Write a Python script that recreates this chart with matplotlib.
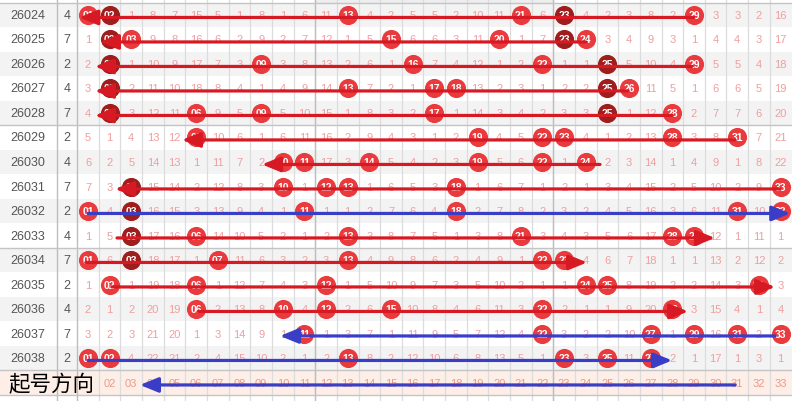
import matplotlib
matplotlib.use("Agg")
import matplotlib.pyplot as plt

# ---- data ----
periods = ["26024", "26025", "26026", "26027", "26028", "26029", "26030", "26031",
           "26032", "26033", "26034", "26035", "26036", "26037", "26038"]
tail = [4, 7, 2, 4, 7, 2, 4, 7, 2, 4, 7, 2, 4, 7, 2]

# miss counts per number 01..33, 0 = drawn that period
misses = [
    [0, 0, 1, 8, 7, 15, 5, 1, 8, 1, 6, 11, 0, 4, 2, 5, 5, 2, 10, 11, 0, 6, 0, 4, 2, 3, 8, 2, 0, 3, 3, 2, 16],
    [1, 0, 0, 9, 8, 16, 6, 2, 9, 2, 7, 12, 1, 5, 0, 6, 6, 3, 11, 0, 1, 7, 0, 0, 3, 4, 9, 3, 1, 4, 4, 3, 17],
    [2, 0, 1, 10, 9, 17, 7, 3, 0, 3, 8, 13, 2, 6, 1, 0, 7, 4, 12, 1, 2, 0, 1, 1, 0, 5, 10, 4, 0, 5, 5, 4, 18],
    [3, 0, 2, 11, 10, 18, 8, 4, 1, 4, 9, 14, 0, 7, 2, 1, 0, 0, 13, 2, 3, 1, 2, 2, 0, 0, 11, 5, 1, 6, 6, 5, 19],
    [4, 0, 3, 12, 11, 0, 9, 5, 0, 5, 10, 15, 1, 8, 3, 2, 0, 1, 14, 3, 4, 2, 3, 3, 0, 1, 12, 0, 2, 7, 7, 6, 20],
    [5, 1, 4, 13, 12, 0, 10, 6, 1, 6, 11, 16, 2, 9, 4, 3, 1, 2, 0, 4, 5, 0, 0, 4, 1, 2, 13, 0, 3, 8, 0, 7, 21],
    [6, 2, 5, 14, 13, 1, 11, 7, 2, 0, 0, 17, 3, 0, 5, 4, 2, 3, 0, 5, 6, 0, 1, 0, 2, 3, 14, 1, 4, 9, 1, 8, 22],
    [7, 3, 0, 15, 14, 2, 12, 8, 3, 0, 1, 0, 0, 1, 6, 5, 3, 0, 1, 6, 7, 1, 2, 1, 3, 4, 15, 2, 5, 10, 2, 9, 0],
    [0, 4, 0, 16, 15, 3, 13, 9, 4, 1, 0, 1, 1, 2, 7, 6, 4, 0, 2, 7, 8, 2, 3, 2, 4, 5, 16, 3, 6, 11, 0, 10, 0],
    [1, 5, 0, 17, 16, 0, 14, 10, 5, 2, 1, 2, 0, 3, 8, 7, 5, 1, 3, 8, 0, 3, 4, 3, 5, 6, 17, 0, 0, 12, 1, 11, 1],
    [0, 6, 0, 18, 17, 1, 0, 11, 6, 3, 2, 3, 0, 4, 9, 8, 6, 2, 4, 9, 1, 0, 0, 4, 6, 7, 18, 1, 1, 13, 2, 12, 2],
    [1, 0, 1, 19, 18, 0, 1, 12, 7, 4, 3, 0, 1, 5, 10, 9, 7, 3, 5, 10, 2, 1, 1, 0, 0, 8, 19, 2, 2, 14, 3, 0, 3],
    [2, 1, 2, 20, 19, 0, 2, 13, 8, 0, 4, 0, 2, 6, 0, 10, 8, 4, 6, 11, 3, 0, 2, 1, 1, 9, 20, 0, 3, 15, 4, 1, 4],
    [3, 2, 3, 21, 20, 1, 3, 14, 9, 1, 0, 1, 3, 7, 1, 11, 9, 5, 7, 12, 4, 0, 3, 2, 2, 10, 0, 1, 0, 16, 0, 2, 0],
    [0, 0, 4, 22, 21, 2, 4, 15, 10, 2, 1, 2, 0, 8, 2, 12, 10, 6, 8, 13, 5, 1, 0, 3, 0, 11, 0, 2, 1, 17, 1, 3, 1],
]
# dark (highlighted) balls: (row, number)
dark_balls = [(0, 2), (0, 23), (1, 2), (1, 23), (2, 2), (2, 25), (3, 2), (3, 25),
              (4, 2), (4, 25), (7, 3), (8, 3), (9, 3), (10, 3)]
prev_balls = [3, 8, 10, 23, 29]   # row cut off at the top
prev_dark = [23]

# footer number labels (01 sits under the caption)
footer_nums = list(range(2, 34))
caption = "起号方向"

# hand drawn arrows: row, start column, tip column, colour
arrow_rows = [0, 1, 2, 3, 4, 5, 6, 7, 8, 9, 10, 11, 12, 13, 14, 15]
arrow_from = [29.0, 24.0, 28.9, 25.95, 28.0, 30.9, 24.66, 32.98, 1.0, 2.34, 0.9, 2.1, 6.1, 32.75, 1.0, 30.9]
arrow_to = [0.6, 1.55, 1.32, 1.32, 1.32, 5.34, 9.04, 2.25, 33.45, 29.97, 24.06, 32.75, 28.73, 9.87, 27.99, 3.4]
arrow_col = ["r", "r", "r", "r", "r", "r", "r", "r", "b", "r", "r", "r", "r", "b", "b", "b"]

RED, DARK = "#e93a3d", "#9e1d1d"
ARROW = {"r": "#d71923", "b": "#3a3dc6"}
NUM = "Liberation Sans"

fig = plt.figure(figsize=(7.92, 4.02), dpi=100)
ax = fig.add_axes([0, 0, 1, 1])
ax.set_xlim(-3.067, 33.53)
ax.set_ylim(15.755, -0.653)
ax.axis("off")

n = len(periods)
foot = n

# row bands
for i in range(n):
    if i % 2 == 0:
        ax.axhspan(i - 0.5, i + 0.5, color="#f3f3f3", lw=0, zorder=0)
ax.axhspan(foot - 0.5, foot + 0.5, color="#fdefe8", lw=0, zorder=0)
ax.fill_between([11.5, 22.5], -0.7, -0.5, color="#eeeeee", lw=0, zorder=0)

# grid
for b in range(1, 33):
    ax.axvline(b + 0.5, color="#dcdcdc", lw=0.9, zorder=1)
for b in [-0.4325, 0.5, 11.5, 22.5]:
    ax.axvline(b, color="#bdbdbd", lw=1.0, zorder=1)
for h in [-0.5, 4.5, 9.5, 14.5, 15.5]:
    ax.axhline(h, color="#c4c4c4", lw=1.0, zorder=1)

# table text + balls
for i in range(n):
    ax.text(-1.77, i, periods[i], ha="center", va="center", fontsize=9,
            color="#555555", family=NUM, zorder=2)
    ax.text(0.03, i, str(tail[i]), ha="center", va="center", fontsize=9,
            color="#555555", family=NUM, zorder=2)
    for k in range(33):
        v = misses[i][k]
        if v == 0:
            c = DARK if (i, k + 1) in dark_balls else RED
            ax.scatter(k + 1, i, s=190, color=c, lw=0, zorder=3)
            ax.text(k + 1, i, "%02d" % (k + 1), ha="center", va="center",
                    fontsize=7.5, color="white", fontweight="bold", family=NUM, zorder=4)
        else:
            ax.text(k + 1, i, str(v), ha="center", va="center", fontsize=8,
                    color="#ef9f9f", family=NUM, zorder=2)

for k in prev_balls:
    ax.scatter(k, -1, s=190, color=DARK if k in prev_dark else RED, lw=0, zorder=3)

# footer
for k in footer_nums:
    ax.text(k, foot, "%02d" % k, ha="center", va="center", fontsize=8,
            color="#eb9a87", family=NUM, zorder=2)
ax.text(-0.71, foot + 0.08, caption, ha="center", va="center", fontsize=15.5,
        color="black", family=["Noto Sans CJK SC", "DejaVu Sans"], zorder=5)

# arrows
for r, x0, x1, c in zip(arrow_rows, arrow_from, arrow_to, arrow_col):
    ax.annotate("", xy=(x1, r + 0.1), xytext=(x0, r + 0.1),
                arrowprops=dict(arrowstyle="-|>,head_length=1.1,head_width=0.45",
                                mutation_scale=10, lw=2.3, color=ARROW[c],
                                shrinkA=0, shrinkB=0),
                zorder=6)

fig.savefig("out.png", dpi=100)
